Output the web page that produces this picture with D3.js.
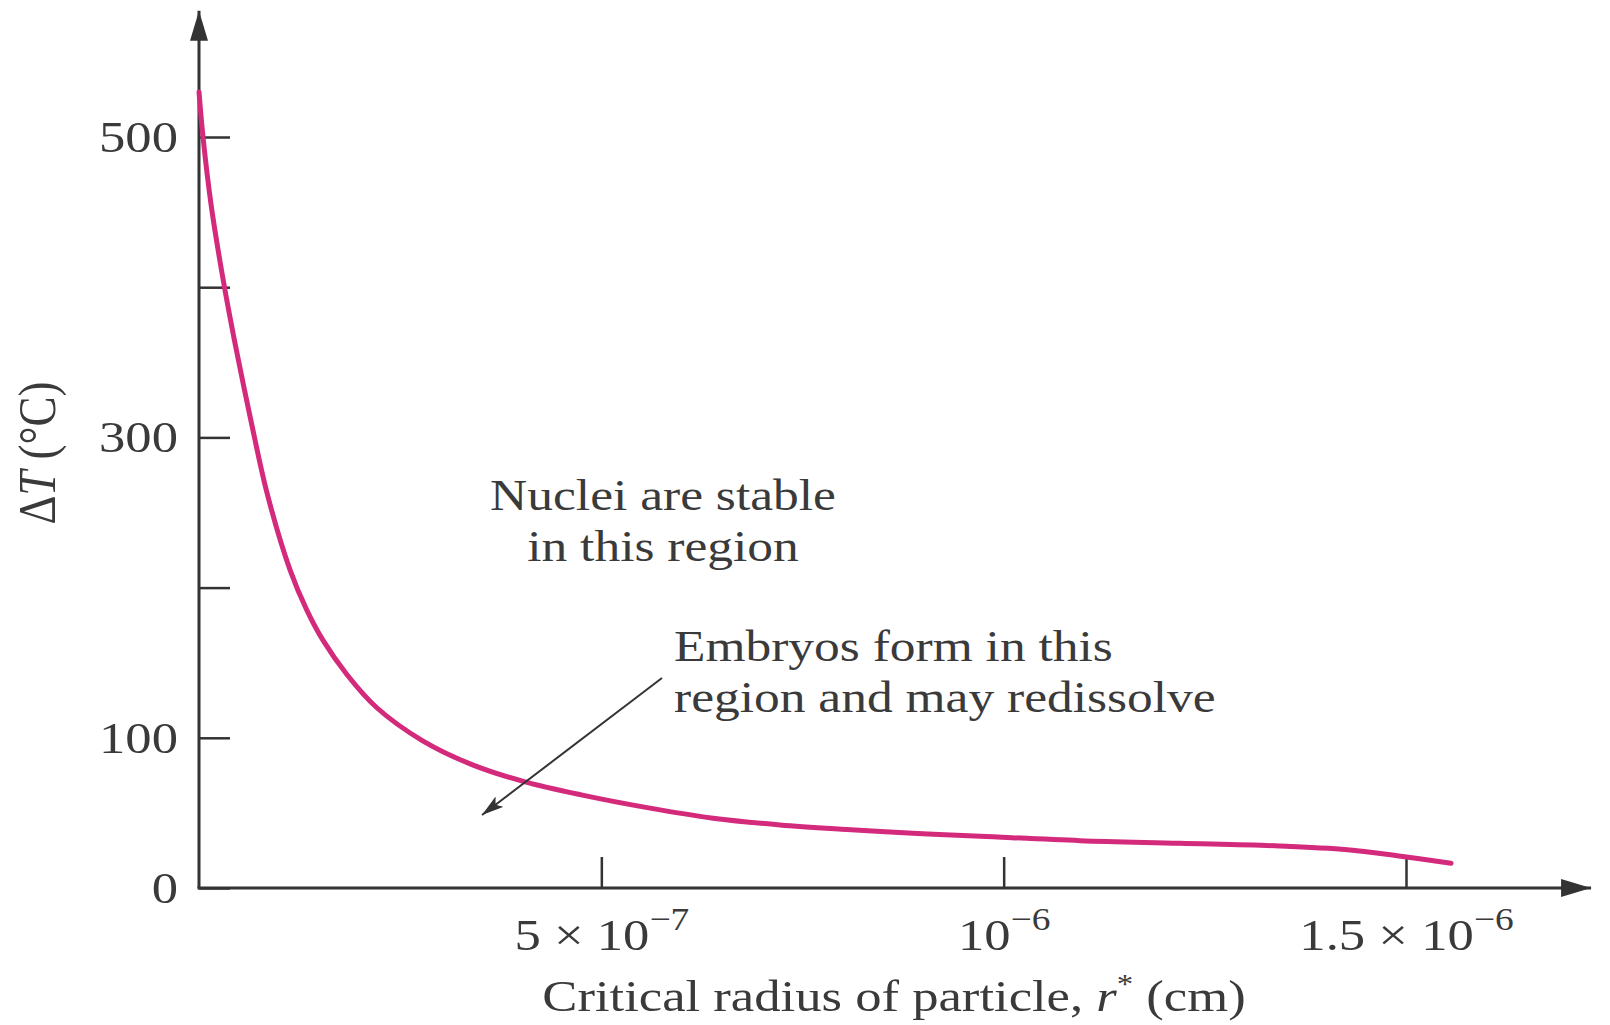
<!DOCTYPE html>
<html>
<head>
<meta charset="utf-8">
<script src="https://cdn.jsdelivr.net/npm/d3@7"></script>
<style>
  body { margin: 0; background: #fff; }
  svg text { font-family: "Liberation Serif", "Times New Roman", serif; fill: #3a3a3a; }
</style>
</head>
<body>
<svg id="chart" width="1610" height="1025"></svg>
<script>
// critical radius r* (cm) and undercooling dT (C)
var radius = [0, 5e-9, 1.5e-8, 3.0e-8, 4.5e-8, 6.5e-8, 8.5e-8, 1.13e-7, 1.34e-7, 1.54e-7,
              1.84e-7, 2.21e-7, 2.78e-7, 3.40e-7, 4.03e-7, 4.75e-7, 5.57e-7, 6.39e-7, 7.22e-7,
              8.05e-7, 8.87e-7, 9.71e-7, 1.095e-6, 1.219e-6, 1.343e-6, 1.427e-6, 1.489e-6, 1.556e-6];
var deltaT = [530, 500, 455, 405, 362, 310, 262, 212, 185, 165,
              142, 120, 98, 82, 71, 62, 53.5, 46.5, 42,
              39, 36.5, 34.5, 31.5, 29.8, 28, 25.5, 21.5, 16.5];

// tick values and labels
var yTickValues = [0, 100, 200, 300, 400, 500];
var yTickLabels = ['0', '100', '', '300', '', '500'];
var xTickValues = [5e-7, 1e-6, 1.5e-6];
var xTickBase = ['5 \u00d7 10', '10', '1.5 \u00d7 10'];
var xTickExp = ['\u22127', '\u22126', '\u22126'];

// where the axis arrows end
var xAxisEnd = 1.73e-6;
var yAxisEnd = 584;

var svg = d3.select('#chart');
var sx = 1.17; // the source figure is stretched sideways, so is the text
var ink = '#333';

var x = d3.scaleLinear().domain([0, 1.5e-6]).range([199, 1406]);
var y = d3.scaleLinear().domain([0, 500]).range([888, 137]);

// arrow heads for the axes
var defs = svg.append('defs');
defs.append('marker').attr('id', 'axisArrow')
  .attr('viewBox', '0 0 30 18').attr('refX', 30).attr('refY', 9)
  .attr('markerWidth', 30).attr('markerHeight', 18)
  .attr('markerUnits', 'userSpaceOnUse').attr('orient', 'auto')
  .append('path').attr('d', 'M0,0 L30,9 L0,18 Z').attr('fill', ink);
defs.append('marker').attr('id', 'noteArrow')
  .attr('viewBox', '0 0 22 13').attr('refX', 22).attr('refY', 6.5)
  .attr('markerWidth', 22).attr('markerHeight', 13)
  .attr('markerUnits', 'userSpaceOnUse').attr('orient', 'auto')
  .append('path').attr('d', 'M0,0 L22,6.5 L0,13 L5,6.5 Z').attr('fill', ink);

// axis lines
svg.append('line')
  .attr('x1', x(0)).attr('y1', y(0)).attr('x2', x(0)).attr('y2', y(yAxisEnd))
  .attr('stroke', ink).attr('stroke-width', 3).attr('marker-end', 'url(#axisArrow)');
svg.append('line')
  .attr('x1', x(0) - 1.5).attr('y1', y(0)).attr('x2', x(xAxisEnd)).attr('y2', y(0))
  .attr('stroke', ink).attr('stroke-width', 3).attr('marker-end', 'url(#axisArrow)');

// y axis ticks, pointing inward
var yAxis = d3.axisLeft(y).tickValues(yTickValues).tickSize(-31).tickPadding(18)
  .tickFormat(function (d, i) { return yTickLabels[i]; });
svg.append('g').attr('transform', 'translate(' + x(0) + ',0)').call(yAxis)
  .call(function (g) { g.select('.domain').remove(); })
  .call(function (g) { g.selectAll('.tick line').attr('stroke', ink).attr('stroke-width', 2.5); })
  .call(function (g) {
    g.selectAll('.tick text').attr('font-size', 45).attr('transform', 'scale(' + sx + ',1)');
  });

// x axis ticks, pointing up, labels with exponents
var xAxis = d3.axisBottom(x).tickValues(xTickValues).tickSize(-31);
var xg = svg.append('g').attr('transform', 'translate(0,' + y(0) + ')').call(xAxis);
xg.select('.domain').remove();
xg.selectAll('.tick line').attr('stroke', ink).attr('stroke-width', 2.5);
xg.selectAll('.tick text').each(function (d, i) {
  var t = d3.select(this).text(null).attr('y', 62).attr('dy', null)
    .attr('font-size', 45).attr('transform', 'scale(' + sx + ',1)');
  t.append('tspan').text(xTickBase[i]);
  t.append('tspan').attr('font-size', 32).attr('dy', -20).text(xTickExp[i]);
});

// the curve
var line = d3.line()
  .x(function (d, i) { return x(radius[i]); })
  .y(function (d) { return y(d); })
  .curve(d3.curveCatmullRom.alpha(0.5));
svg.append('path').datum(deltaT)
  .attr('d', line)
  .attr('fill', 'none').attr('stroke', '#d42a7c').attr('stroke-width', 5)
  .attr('stroke-linecap', 'round');

// text helper, stretched like the source
function label(px, py, anchor, size) {
  return svg.append('text')
    .attr('transform', 'translate(' + px + ',' + py + ') scale(' + sx + ',1)')
    .attr('text-anchor', anchor).attr('font-size', size);
}

// axis titles
var xt = label(894, 1011, 'middle', 45);
xt.append('tspan').text('Critical radius of particle, ');
xt.append('tspan').attr('font-style', 'italic').text('r');
xt.append('tspan').attr('font-size', 28).attr('dy', -18).text('*');
xt.append('tspan').attr('dy', 18).text(' (cm)');

var yt = svg.append('text')
  .attr('transform', 'translate(55,453) rotate(-90) scale(1,' + sx + ')')
  .attr('text-anchor', 'middle').attr('font-size', 45);
yt.append('tspan').text('\u0394');
yt.append('tspan').attr('font-style', 'italic').text('T');
yt.append('tspan').text(' (\u00b0C)');

// notes
label(663, 510, 'middle', 44).text('Nuclei are stable');
label(663, 561, 'middle', 44).text('in this region');
label(674, 661, 'start', 44).text('Embryos form in this');
label(674, 712, 'start', 44).text('region and may redissolve');

svg.append('line')
  .attr('x1', 662).attr('y1', 678).attr('x2', 482).attr('y2', 815)
  .attr('stroke', ink).attr('stroke-width', 2).attr('marker-end', 'url(#noteArrow)');
</script>
</body>
</html>
